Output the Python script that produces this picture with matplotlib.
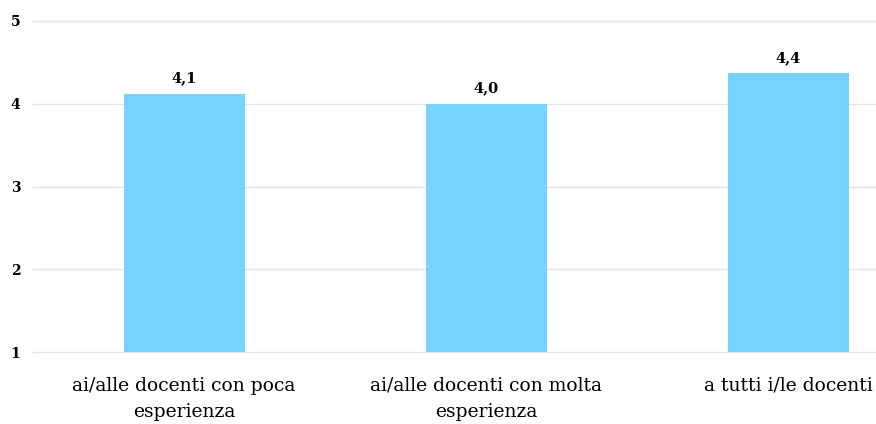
import matplotlib

matplotlib.use("Agg")

import matplotlib.pyplot as plt

# -------------------------------------------------------------------------
# Data
# -------------------------------------------------------------------------

categories = [
    "ai/alle docenti con poca\nesperienza",
    "ai/alle docenti con molta\nesperienza",
    "a tutti i/le docenti",
]
values = [4.12, 4.00, 4.37]
value_labels = ["4,1", "4,0", "4,4"]
y_ticks = [1, 2, 3, 4, 5]

BAR_COLOR = "#75D3FE"
GRID_COLOR = "#E3E3E3"

plt.rcParams["font.family"] = ["DejaVu Serif"]

# -------------------------------------------------------------------------
# Figure
# -------------------------------------------------------------------------

fig = plt.figure(figsize=(8.76, 4.24), dpi=100)
ax = fig.add_axes([33 / 876, 1 - 352 / 424, 1 - 33 / 876, (352 - 21) / 424])

x = list(range(len(categories)))

bars = ax.bar(x, [v - 1 for v in values], bottom=1, width=0.4,
              color=BAR_COLOR, zorder=2)

for xi, v, lab in zip(x, values, value_labels):
    ax.text(xi, v + 0.1, lab, ha="center", va="bottom",
            fontsize=10.5, fontweight="bold")

ax.set_ylim(1, 5)
ax.set_xlim(-0.5, 2.29)
ax.set_yticks(y_ticks)
ax.set_yticklabels([str(t) for t in y_ticks], fontsize=10, fontweight="bold")
ax.set_xticks(x)
ax.set_xticklabels(categories, fontsize=13.5, linespacing=1.55)

ax.grid(axis="y", color=GRID_COLOR, linewidth=1, zorder=0)
for line in ax.get_ygridlines():
    line.set_clip_on(False)
ax.tick_params(axis="both", length=0)
ax.tick_params(axis="y", pad=9)
ax.tick_params(axis="x", pad=18)

for side in ["top", "right", "left", "bottom"]:
    ax.spines[side].set_visible(False)

fig.savefig("out.png", dpi=100)
plt.close(fig)
